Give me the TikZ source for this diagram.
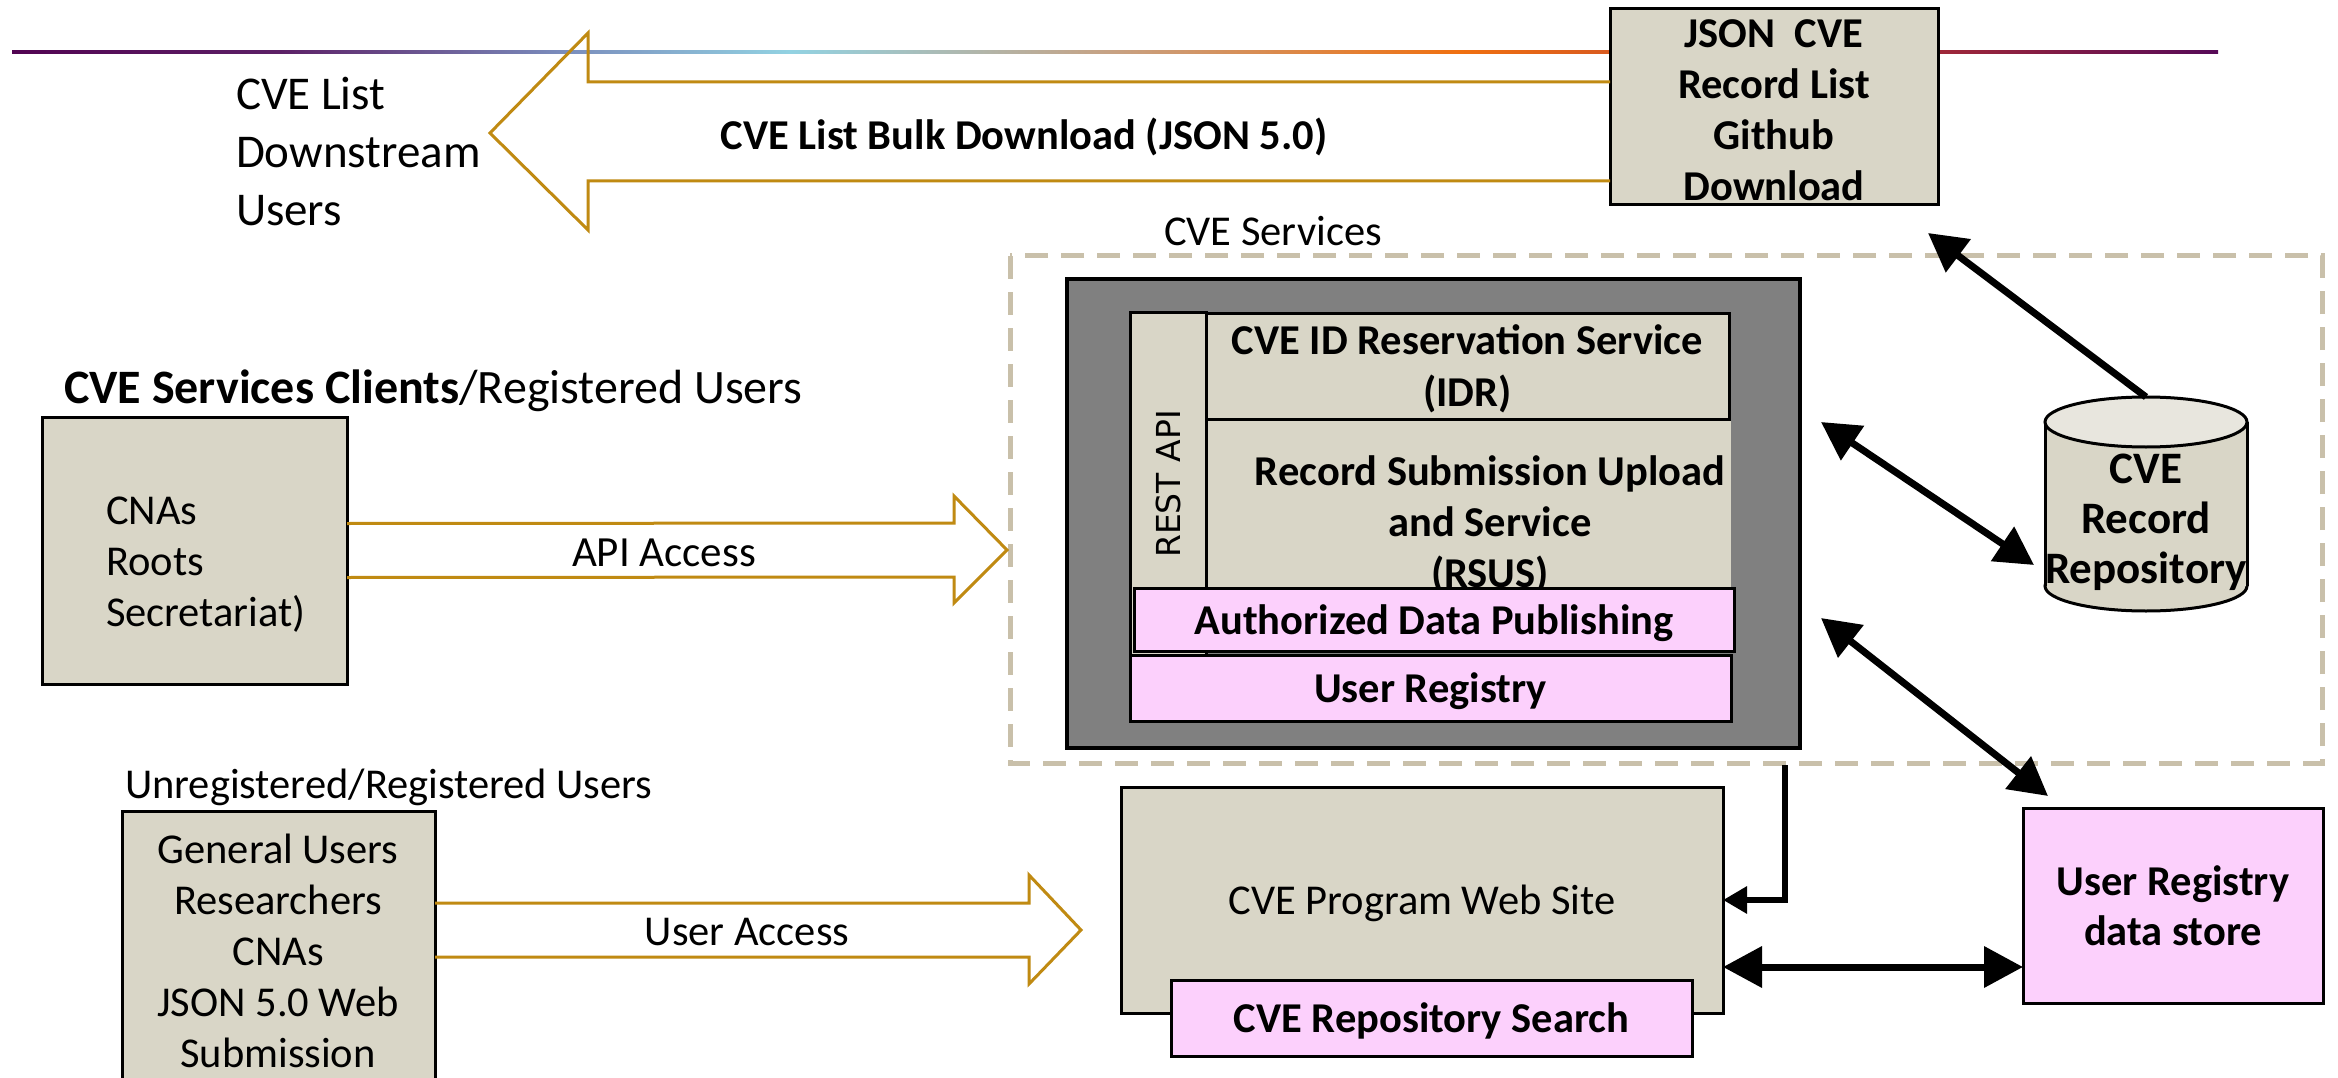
\documentclass[tikz,border=0pt]{standalone}
\usepackage{fontspec}
\setmainfont{Carlito}
\newfontfamily\restfont{DejaVu Sans}
\usetikzlibrary{arrows.meta,calc}
\definecolor{beige}{HTML}{D9D6C7}
\definecolor{pinkc}{HTML}{FCD0FC}
\definecolor{goldc}{HTML}{C08A12}
\definecolor{dashc}{HTML}{C9C0AA}
\definecolor{grayc}{HTML}{808080}
\definecolor{cyltop}{HTML}{E8E6DE}
\definecolor{ga}{HTML}{520452}
\definecolor{gb}{HTML}{5C2066}
\definecolor{gc}{HTML}{7A8CBC}
\definecolor{gd}{HTML}{92D2E2}
\definecolor{ge}{HTML}{C8A080}
\definecolor{gf}{HTML}{F07010}
\definecolor{gg}{HTML}{D85A20}
\definecolor{gh}{HTML}{A02838}
\definecolor{gi}{HTML}{560A58}
\tikzset{
  every node/.style={font=\fontsize{42.5}{50}\selectfont},
  box/.style={draw=black, line width=3pt, fill=beige, inner sep=0pt, outer sep=0pt, align=center, anchor=north west, text depth=0pt},
  pinkbox/.style={box, fill=pinkc, font=\bfseries\fontsize{42.5}{50}\selectfont},
  lbl/.style={inner sep=0pt, outer sep=0pt},
  blockarrow/.style={draw=goldc, line width=3pt, line join=miter},
  conn/.style={line width=7pt, -{Triangle[length=38pt,width=40pt]}},
  dconn/.style={line width=7pt, {Triangle[length=38pt,width=40pt]}-{Triangle[length=38pt,width=40pt]}},
  hconn/.style={line width=7pt, {Triangle[length=39pt,width=40pt]}-{Triangle[length=39pt,width=40pt]}},
  elbow/.style={line width=6pt, -{Triangle[length=24pt,width=26pt]}},
}
\begin{document}
\begin{tikzpicture}[x=1pt,y=-1pt]
\fill[white] (0,0) rectangle (2338,1078);
\useasboundingbox (0,0) rectangle (2338,1078);
% gradient line
\shade[left color=ga,right color=gb] (12,50.5) rectangle (280,54);
\shade[left color=gb,right color=gc] (280,50.5) rectangle (560,54);
\shade[left color=gc,right color=gd] (560,50.5) rectangle (790,54);
\shade[left color=gd,right color=ge] (790,50.5) rectangle (1120,54);
\shade[left color=ge,right color=gf] (1120,50.5) rectangle (1460,54);
\shade[left color=gf,right color=gg] (1460,50.5) rectangle (1612,54);
\shade[left color=gh,right color=gi] (1936,50.5) rectangle (2218,54);

% JSON box
\node[box, minimum width=328, minimum height=196] (json) at (1610,9) {};
\node[lbl, align=center, font=\bfseries\fontsize{42.5}{51}\selectfont] (jsontxt) at (1774,110) {JSON\ \ CVE\\Record List\\Github\\Download};
% big left arrow
\draw[blockarrow] ($(json.west)+(0,-25)$) -- (588,82) -- (588,33) -- (490,133) -- (588,230) -- (588,181) -- ($(json.west)+(0,74)$);
\node[lbl, font=\bfseries\fontsize{42.5}{50}\selectfont] (bulk) at (1024,137) {CVE List Bulk Download (JSON 5.0)};
\node[lbl, anchor=west, align=left, font=\fontsize{47}{58}\selectfont] (down) at (236,152) {CVE List\\Downstream\\Users};

% CVE services
\node[lbl] (svclbl) at (1273,231) {CVE Services};
\draw[dashc, line width=5pt, dash pattern=on 23pt off 13pt] (1010,256) rectangle (2322,763);
\node[box, fill=grayc, line width=4pt, minimum width=733, minimum height=469] (gray) at (1067,279) {};
\node[box, fill=beige, draw=none, minimum width=525, minimum height=170] (rsus) at (1206,418) {};
\node[lbl, align=center, font=\bfseries\fontsize{42.5}{51}\selectfont] (rsustxt) at (1490,525) {Record Submission Upload\\and Service\\(RSUS)};
\node[box, minimum width=523, minimum height=106, font=\bfseries\fontsize{42.5}{52}\selectfont] (idr) at (1206,313) {CVE ID Reservation Service\\(IDR)};
\node[box, minimum width=76, minimum height=344] (rest) at (1130,312) {};
\node[lbl, rotate=90, font=\restfont\fontsize{33}{40}\selectfont] (resttxt) at (rest.center) {REST API};
\node[pinkbox, minimum width=600, minimum height=63] (adp) at (1134,588) {Authorized Data Publishing};
\node[pinkbox, minimum width=601, minimum height=66] (ureg) at (1130,655) {User Registry};

% cylinder
\fill[beige, draw=black, line width=3pt] (2146,586) ellipse (101 and 25);
\fill[beige] (2045,422) rectangle (2247,586);
\draw[line width=3pt] (2045,422) -- (2045,586) (2247,422) -- (2247,586);
\filldraw[fill=cyltop, draw=black, line width=3pt] (2146,422) ellipse (101 and 25);
\coordinate (cyltopc) at (2146,397);
\node[lbl, align=center, font=\bfseries\fontsize{45}{50}\selectfont] (repo) at (2146,522) {CVE\\Record\\Repository};

% clients
\node[lbl, anchor=west, font=\fontsize{48}{50}\selectfont] (clientlbl) at (64,391) {\textbf{CVE Services Clients}/Registered Users};
\node[box, minimum width=305, minimum height=267] (cnas) at (42,417) {};
\node[lbl, anchor=west, align=left, font=\fontsize{42.5}{51}\selectfont] (cnastxt) at (106,565) {CNAs\\Roots\\Secretariat)};
\draw[blockarrow] ($(cnas.east)+(0,-27)$) -- (954,523) -- (954,496) -- (1007,550) -- (954,603) -- (954,577) -- ($(cnas.east)+(0,27)$);
\node[lbl, font=\fontsize{43}{50}\selectfont] (apilbl) at (664,553) {API Access};

% unregistered
\node[lbl, anchor=west] (unreglbl) at (125,787) {Unregistered/Registered Users};
\node[box, minimum width=313, minimum height=280] (gen) at (122,811) {};
\node[lbl, align=center, font=\fontsize{42.5}{51}\selectfont] (gentxt) at (278,951) {General Users\\Researchers\\CNAs\\JSON 5.0 Web\\Submission};
\coordinate (ua) at (0,903);
\coordinate (ub) at (0,957);
\draw[blockarrow] (gen.east |- ua) -- (1029,903) -- (1029,875) -- (1081,930) -- (1029,984) -- (1029,957) -- (gen.east |- ub);
\node[lbl] (userlbl) at (747,932) {User Access};

% web site
\node[box, minimum width=602, minimum height=226] (web) at (1121,787) {CVE Program Web Site};
\node[pinkbox, minimum width=521, minimum height=76] (search) at (1171,980) {CVE Repository Search};
\node[pinkbox, minimum width=300, minimum height=195] (urds) at (2023,808) {User Registry\\data store};

% connectors
\coordinate (a1end) at (1928,233);
\draw[conn] (cyltopc) -- (a1end);
\coordinate (a2s) at (1821,422);
\coordinate (a2e) at (2034,565);
\draw[dconn] (a2s) -- (a2e);
\coordinate (a3s) at (1821,618);
\coordinate (a3e) at (2048,796);
\draw[dconn] (a3s) -- (a3e);
\coordinate (elb) at (1785,765);
\draw[elbow, line join=miter] (elb) |- (web.east);
\coordinate (hy) at (0,967);
\draw[hconn] (web.east |- hy) -- (urds.west |- hy);
\end{tikzpicture}
\end{document}
